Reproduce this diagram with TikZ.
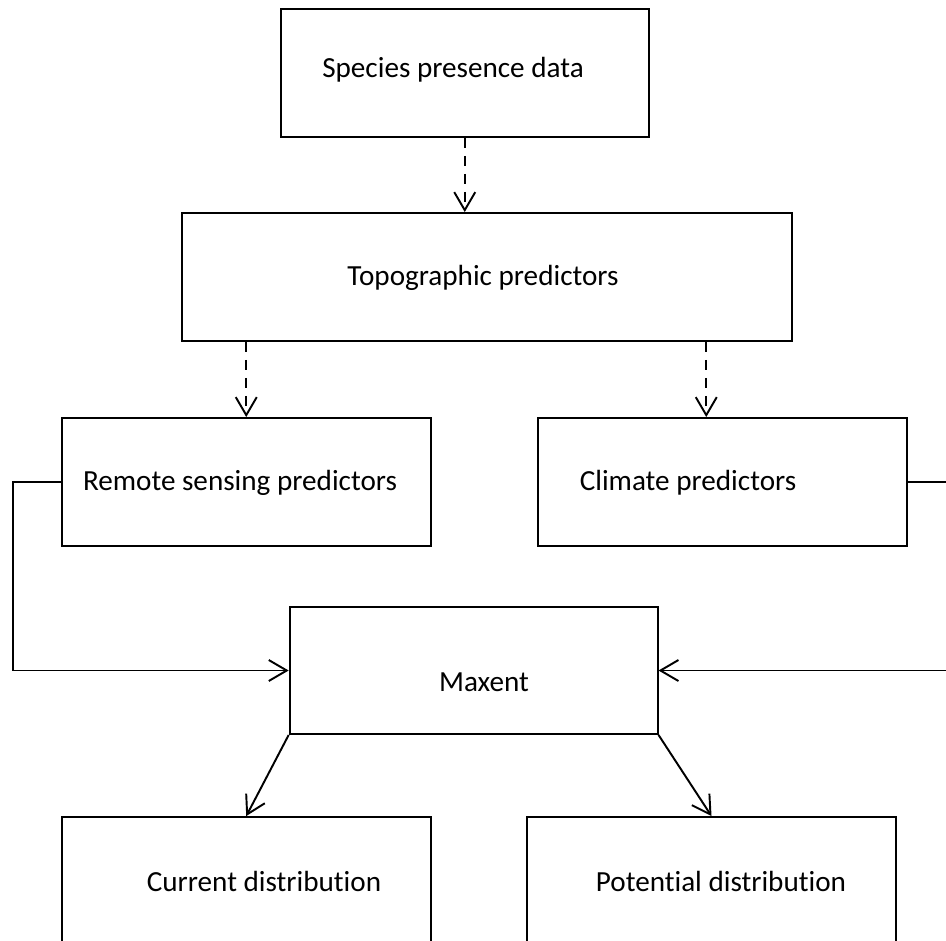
\documentclass[tikz,border=0pt]{standalone}
\usepackage{fontspec}
\setmainfont{Carlito}[Ligatures=NoCommon, RawFeature=-liga]
\usetikzlibrary{arrows.meta}

\tikzset{
  box/.style={draw, line width=1.1pt, rectangle, inner sep=0pt},
  lbl/.style={font=\fontsize{16.6}{20}\selectfont, inner sep=0pt},
  dashline/.style={dash pattern=on 0.2cm off 0.16cm},
}

\begin{document}
\begin{tikzpicture}[x=0.02cm, y=-0.02cm, line width=1.1pt,
    >={Straight Barb[length=0.36cm, width=0.42cm]}]
        \useasboundingbox (0,0) rectangle (946,940);
        \clip (0,0) rectangle (946,940);

        % Draw the boxes
        \node[box, minimum width=7.37cm, minimum height=2.56cm] (spec) at (464.75,73) {};
        \node[box, minimum width=12.2cm, minimum height=2.56cm] (topo) at (487,277) {};
        \node[box, minimum width=7.39cm, minimum height=2.56cm] (remote) at (246.25,482) {};
        \node[box, minimum width=7.39cm, minimum height=2.56cm] (climate) at (722.25,482) {};
        \node[box, minimum width=7.36cm, minimum height=2.54cm] (maxent) at (473.6,670.5) {};
        \node[box, minimum width=7.39cm, minimum height=2.86cm] (current) at (246.25,888.5) {};
        \node[box, minimum width=7.38cm, minimum height=2.86cm] (potential) at (711.5,888.5) {};

        % Labels inside the boxes
        \node[lbl] (spec-lbl) at (453,70) {Species presence data};
        \node[lbl] (topo-lbl) at (483,277.5) {Topographic predictors};
        \node[lbl] (remote-lbl) at (240,482.5) {Remote sensing predictors};
        \node[lbl] (climate-lbl) at (688,482.5) {Climate predictors};
        \node[lbl] (maxent-lbl) at (484,682) {Maxent};
        \node[lbl] (current-lbl) at (264,881) {Current distribution};
        \node[lbl] (potential-lbl) at (721,881) {Potential distribution};

        % Dashed arrows
        \draw[dashline, ->] (spec.south) -- (spec.south |- topo.north);
        \draw[dashline, ->] (remote.north |- topo.south) -- (remote.north);
        \draw[dashline, ->] ([xshift=-0.32cm]climate.north |- topo.south) -- ([xshift=-0.32cm]climate.north);

        % Predictors into Maxent
        \draw[->] (remote.west) -- ++(-47.5,0) |- (maxent.west);
        \draw[->] (climate.east) -- ++(60,0) |- (maxent.east);

        % Maxent outputs
        \draw[->] (maxent.south west) -- (current.north);
        \draw[->] (maxent.south east) -- (potential.north);
    \end{tikzpicture}
\end{document}
